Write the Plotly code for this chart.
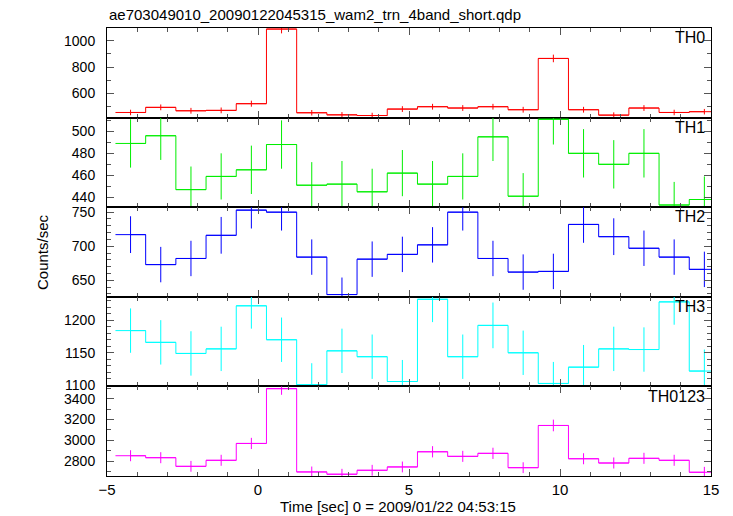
import plotly.graph_objects as go
from plotly.subplots import make_subplots

# ---- data ----
time_centres = [-4.22, -3.22, -2.22, -1.22, -0.22, 0.78, 1.78, 2.78, 3.78, 4.78,
                5.78, 6.78, 7.78, 8.78, 9.78, 10.78, 11.78, 12.78, 13.78, 14.78]
half_bin = 0.5

th0 = [454, 493, 467, 470, 521, 1090, 452, 436, 431, 480,
       498, 488, 498, 475, 866, 475, 434, 488, 454, 460]
th0_err = [21, 22, 22, 22, 23, 33, 21, 21, 21, 22,
           22, 22, 22, 22, 29, 22, 21, 22, 21, 21]

th1 = [489, 496, 447, 459, 465, 488, 451, 452, 445, 462,
       452, 459, 495, 441, 511, 480, 470, 480, 433, 438]
th1_err = [22, 22, 21, 21, 22, 22, 21, 21, 21, 21,
           21, 21, 22, 21, 23, 22, 22, 22, 21, 21]

th2 = [717, 673, 682, 716, 753, 750, 684, 629, 681, 688,
       702, 750, 682, 662, 663, 732, 714, 697, 684, 666]
th2_err = [27, 26, 26, 27, 27, 27, 26, 25, 26, 26,
           26, 27, 26, 26, 26, 27, 27, 26, 26, 26]

th3 = [1184, 1166, 1149, 1156, 1222, 1170, 1101, 1153, 1144, 1106,
       1232, 1144, 1192, 1150, 1103, 1128, 1156, 1155, 1228, 1122]
th3_err = [34, 34, 34, 34, 35, 34, 33, 34, 34, 33,
           35, 34, 35, 34, 33, 34, 34, 34, 35, 33]

th0123 = [2851, 2832, 2749, 2807, 2969, 3496, 2695, 2673, 2711, 2743,
          2889, 2845, 2874, 2736, 3142, 2822, 2781, 2826, 2807, 2692]
th0123_err = [53, 53, 52, 53, 54, 59, 52, 52, 52, 52,
              54, 53, 54, 52, 56, 53, 53, 53, 53, 52]

panel_names = ["TH0", "TH1", "TH2", "TH3", "TH0123"]
panel_values = [th0, th1, th2, th3, th0123]
panel_errors = [th0_err, th1_err, th2_err, th3_err, th0123_err]
panel_colors = ["#ff0000", "#00ee00", "#0000ff", "#00ffff", "#ff00ff"]
y_ranges = [[415, 1098], [431, 512.5], [625.7, 757.3], [1098.5, 1235.8], [2656, 3517.7]]
y_major = [200, 20, 50, 50, 200]
y_minor = [100, 10, 10, 10, 100]

title_text = "ae703049010_20090122045315_wam2_trn_4band_short.qdp"
x_title = "Time [sec] 0 = 2009/01/22 04:53:15"
y_title = "Counts/sec"

FONT = "Liberation Sans, Arial, Helvetica, sans-serif"

fig = make_subplots(rows=5, cols=1, shared_xaxes=True, vertical_spacing=0)

for i in range(5):
    fig.add_trace(go.Scatter(
        x=time_centres, y=panel_values[i], mode="lines", line_shape="hvh",
        line=dict(color=panel_colors[i], width=1),
        error_y=dict(type="data", array=panel_errors[i], visible=True,
                     color=panel_colors[i], thickness=1, width=0),
        error_x=dict(type="constant", value=half_bin, visible=True,
                     color=panel_colors[i], thickness=1, width=0),
        showlegend=False, hoverinfo="x+y"), row=i + 1, col=1)

    fig.update_yaxes(range=y_ranges[i], tickmode="linear", tick0=0, dtick=y_major[i],
                     ticks="inside", ticklen=7, tickcolor="#555", tickwidth=1,
                     minor=dict(ticks="inside", dtick=y_minor[i], tick0=0, ticklen=4,
                                tickcolor="#555", tickwidth=1, showgrid=False),
                     showline=True, linecolor="black", linewidth=1, mirror="ticks",
                     showgrid=False, zeroline=False,
                     tickfont=dict(family=FONT, size=14, color="black"),
                     ticklabelstandoff=8,
                     row=i + 1, col=1)
    fig.update_xaxes(range=[-5, 15], tickmode="linear", tick0=-5, dtick=5,
                     ticks="inside", ticklen=7, tickcolor="#555", tickwidth=1,
                     minor=dict(ticks="inside", dtick=1, tick0=-5, ticklen=4,
                                tickcolor="#555", tickwidth=1, showgrid=False),
                     showline=True, linecolor="black", linewidth=1, mirror="ticks",
                     showgrid=False, zeroline=False,
                     showticklabels=(i == 4),
                     tickfont=dict(family=FONT, size=15, color="black"),
                     row=i + 1, col=1)
    suffix = "" if i == 0 else str(i + 1)
    fig.add_annotation(text=panel_names[i], xref="x" + suffix + " domain",
                       yref="y" + suffix + " domain", x=0.993, y=1.01,
                       xanchor="right", yanchor="top", showarrow=False,
                       font=dict(family=FONT, size=16, color="black"))

fig.add_annotation(text=title_text, xref="paper", yref="paper", x=0, y=1.031,
                   xanchor="left", yanchor="middle", showarrow=False,
                   font=dict(family=FONT, size=15, color="black"))
fig.add_annotation(text=x_title, xref="paper", yref="paper", x=0.481, y=-0.067,
                   xanchor="center", yanchor="middle", showarrow=False,
                   font=dict(family=FONT, size=15, color="black"))
fig.add_annotation(text=y_title, xref="paper", yref="paper", x=-0.1076, y=0.5,
                   xanchor="center", yanchor="middle", textangle=-90, showarrow=False,
                   font=dict(family=FONT, size=15, color="black"))

fig.update_layout(width=725, height=508, margin=dict(l=99, r=22, t=20, b=40),
                  paper_bgcolor="white", plot_bgcolor="white",
                  font=dict(family=FONT, size=14, color="black"))

fig.write_html("out.html")
